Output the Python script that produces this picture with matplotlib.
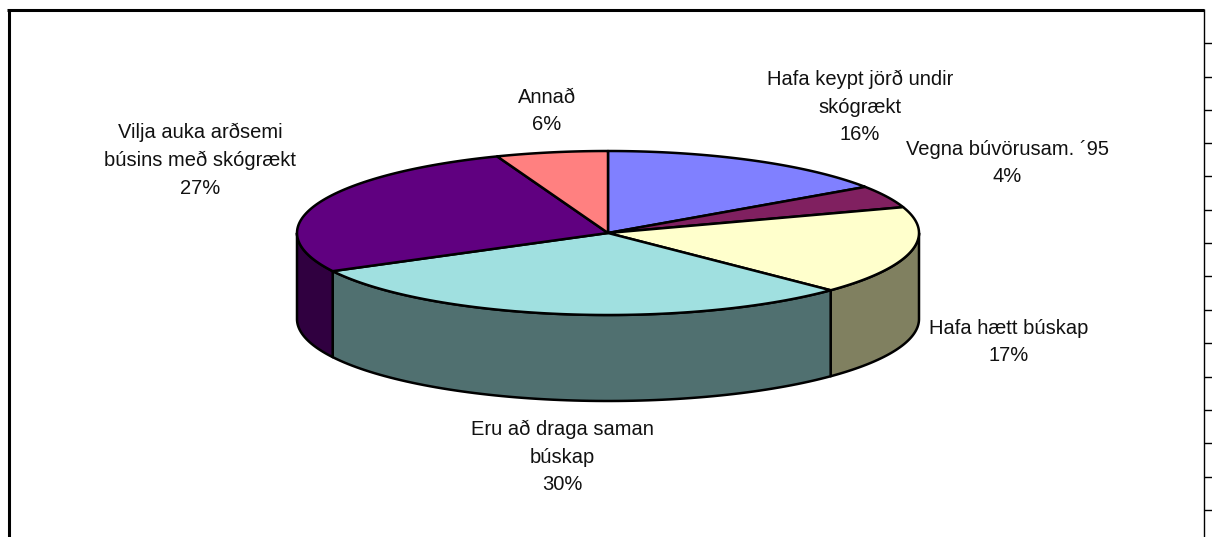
import numpy as np
from matplotlib import pyplot as plt
from matplotlib.patches import Polygon

plt.rcParams['font.family'] = ['Liberation Sans', 'DejaVu Sans']

# slices clockwise from 12 o'clock
flokkar = ["Hafa keypt jörð undir\nskógrækt", "Vegna búvörusam. ´95", "Hafa hætt búskap",
           "Eru að draga saman\nbúskap", "Vilja auka arðsemi\nbúsins með skógrækt", "Annað"]
gildi = [15.5, 4.4, 17.4, 30.0, 26.9, 5.8]
litir = ["#8080FF", "#802060", "#FFFFCC", "#A0E0E0", "#600080", "#FF8080"]
hlidar = ["#404080", "#401030", "#808060", "#507070", "#300040", "#804040"]
merki_x = [860, 1007, 1009, 562, 200, 547]
merki_y = [107, 163, 342, 457, 160, 111]

# pie geometry in pixels
cx, cy = 608, 233
rx, ry = 311, 82
dypt = 86

fig = plt.figure(figsize=(12.12, 5.37), dpi=100)
ax = fig.add_axes([0, 0, 1, 1])
ax.set_xlim(0, 1212)
ax.set_ylim(537, 0)
ax.axis("off")


def brun(a, b):
    # points on the ellipse edge, angle in degrees clockwise from top
    t = np.radians(np.linspace(a, b, 80))
    return cx + rx * np.sin(t), cy - ry * np.cos(t)


horn = np.concatenate([[0], np.cumsum(gildi)]) * 360 / sum(gildi)

# side walls, only the front half (90-270 deg) shows
for i in range(len(gildi)):
    a, b = max(horn[i], 90), min(horn[i + 1], 270)
    if a >= b:
        continue
    x, y = brun(a, b)
    pts = np.r_[np.c_[x, y], np.c_[x[::-1], y[::-1] + dypt]]
    ax.add_patch(Polygon(pts, closed=True, fc=hlidar[i], ec="black", lw=1.8, joinstyle="round"))

# top face
for i in range(len(gildi)):
    x, y = brun(horn[i], horn[i + 1])
    pts = np.r_[[[cx, cy]], np.c_[x, y]]
    ax.add_patch(Polygon(pts, closed=True, fc=litir[i], ec="black", lw=1.8, joinstyle="round"))

for nafn, g, x, y in zip(flokkar, gildi, merki_x, merki_y):
    ax.text(x, y, f"{nafn}\n{g:.0f}%", ha="center", va="center", fontsize=14.5,
            color="#111111", linespacing=1.58)

# frame of the chart object
ax.plot([8.5, 8.5], [537, 9.5], color="black", lw=2.2, solid_capstyle="butt")
ax.plot([7, 1204], [9.5, 9.5], color="black", lw=2.2, solid_capstyle="butt")
ax.plot([1204, 1204], [9, 537], color="black", lw=1, solid_capstyle="butt")
for y in [43, 77, 110, 143, 176, 210, 243, 276, 310, 343, 377, 410, 443, 477, 510]:
    ax.plot([1204, 1212], [y, y], color="black", lw=1, solid_capstyle="butt")

fig.savefig("out.png", dpi=100)
